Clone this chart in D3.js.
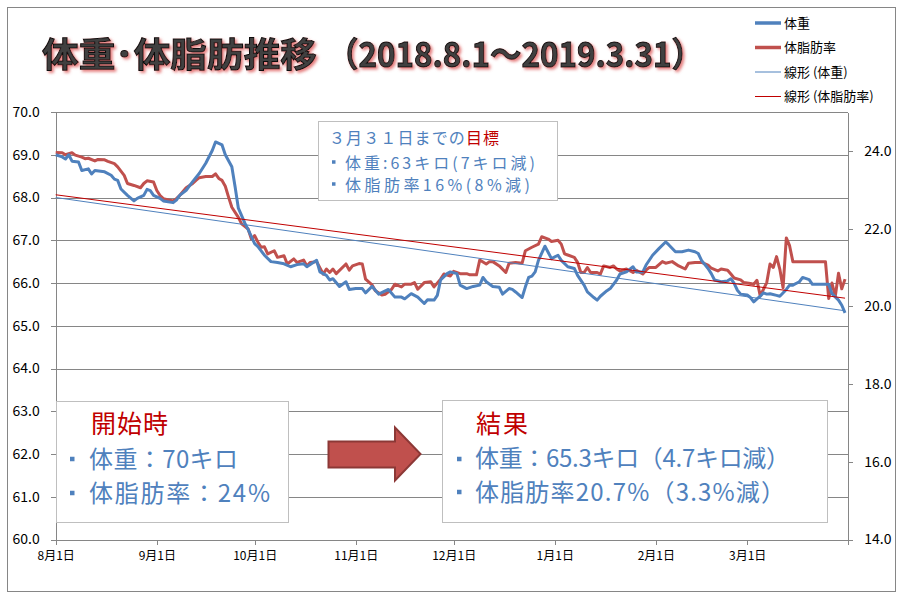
<!DOCTYPE html>
<html>
<head>
<meta charset="utf-8">
<script src="https://cdn.jsdelivr.net/npm/d3@7"></script>
<style>
body { margin: 0; background: #fff; }
svg { display: block; font-family: "Noto Sans CJK JP", "Noto Sans", sans-serif; }
</style>
</head>
<body>
<div class="chart"></div>
<script>
// weight (kg)
var weightSeries = [
    ["2018-08-01",69.0],["2018-08-03",68.95],["2018-08-04",68.9],["2018-08-05",69.0],["2018-08-06",68.85],["2018-08-08",68.83],
    ["2018-08-09",68.63],["2018-08-11",68.67],["2018-08-12",68.55],["2018-08-13",68.63],["2018-08-16",68.6],["2018-08-18",68.52],
    ["2018-08-19",68.43],["2018-08-20",68.4],["2018-08-21",68.2],["2018-08-23",68.05],["2018-08-25",67.92],["2018-08-26",67.98],
    ["2018-08-28",68.05],["2018-08-29",68.19],["2018-08-30",68.16],["2018-08-31",68.05],
    ["2018-09-02",67.98],["2018-09-03",67.92],["2018-09-06",67.88],["2018-09-07",67.94],["2018-09-08",68.05],["2018-09-10",68.17],
    ["2018-09-12",68.37],["2018-09-14",68.56],["2018-09-16",68.8],["2018-09-18",69.1],["2018-09-19",69.3],["2018-09-21",69.23],
    ["2018-09-22",69.0],["2018-09-24",68.72],["2018-09-25",68.25],["2018-09-26",67.75],["2018-09-28",67.4],["2018-09-29",67.25],
    ["2018-10-01",66.92],["2018-10-02",66.85],["2018-10-04",66.65],["2018-10-06",66.5],["2018-10-08",66.48],["2018-10-10",66.45],
    ["2018-10-12",66.38],["2018-10-14",66.43],["2018-10-16",66.45],["2018-10-17",66.38],["2018-10-20",66.53],["2018-10-21",66.26],
    ["2018-10-23",66.18],["2018-10-24",66.07],["2018-10-25",66.1],["2018-10-27",65.92],["2018-10-29",66.03],["2018-10-30",65.85],
    ["2018-11-01",65.87],["2018-11-03",65.87],["2018-11-04",65.77],["2018-11-06",65.92],["2018-11-07",65.83],["2018-11-08",65.74],
    ["2018-11-11",65.85],["2018-11-13",65.67],["2018-11-15",65.67],["2018-11-16",65.63],["2018-11-18",65.75],["2018-11-20",65.67],
    ["2018-11-22",65.52],["2018-11-23",65.61],["2018-11-25",65.6],["2018-11-26",65.71],["2018-11-27",66.07],["2018-11-29",66.22],
    ["2018-11-30",66.26],
    ["2018-12-02",66.22],["2018-12-03",65.95],["2018-12-05",65.87],["2018-12-07",65.92],["2018-12-09",65.95],["2018-12-10",66.13],
    ["2018-12-11",66.03],["2018-12-13",65.92],["2018-12-15",65.9],["2018-12-16",65.74],["2018-12-18",65.87],["2018-12-19",65.85],
    ["2018-12-20",65.79],["2018-12-22",65.66],["2018-12-23",65.91],["2018-12-24",66.13],["2018-12-25",66.16],["2018-12-26",66.26],
    ["2018-12-27",66.53],["2018-12-29",66.86],["2018-12-31",66.57],
    ["2019-01-02",66.65],["2019-01-03",66.53],["2019-01-05",66.38],["2019-01-07",66.34],["2019-01-08",66.18],["2019-01-10",65.95],
    ["2019-01-11",65.79],["2019-01-13",65.66],["2019-01-14",65.6],["2019-01-15",65.69],["2019-01-17",65.82],["2019-01-18",65.87],
    ["2019-01-20",66.07],["2019-01-21",66.21],["2019-01-23",66.26],["2019-01-25",66.38],["2019-01-26",66.26],["2019-01-28",66.26],
    ["2019-01-29",66.42],["2019-01-31",66.65],
    ["2019-02-02",66.81],["2019-02-04",66.96],["2019-02-05",66.89],["2019-02-07",66.73],["2019-02-09",66.73],["2019-02-11",66.77],
    ["2019-02-13",66.73],["2019-02-14",66.69],["2019-02-15",66.53],["2019-02-17",66.34],["2019-02-18",66.22],["2019-02-19",66.07],
    ["2019-02-21",66.03],["2019-02-23",66.05],["2019-02-24",66.1],["2019-02-25",65.99],["2019-02-26",65.83],["2019-02-27",65.74],
    ["2019-03-01",65.72],["2019-03-02",65.66],["2019-03-03",65.56],["2019-03-04",65.63],["2019-03-05",65.69],["2019-03-06",65.77],
    ["2019-03-07",65.74],["2019-03-08",65.75],["2019-03-10",65.71],["2019-03-11",65.69],["2019-03-13",65.85],["2019-03-14",65.95],
    ["2019-03-15",65.95],["2019-03-17",66.03],["2019-03-18",66.13],["2019-03-20",66.08],["2019-03-21",65.97],["2019-03-26",65.97],
    ["2019-03-27",65.75],["2019-03-29",65.6],["2019-03-30",65.48],["2019-03-31",65.3]
];

// body fat (%)
var fatSeries = [
    ["2018-08-01",23.96],["2018-08-03",23.95],["2018-08-04",23.9],["2018-08-06",23.95],["2018-08-07",23.89],["2018-08-09",23.84],
    ["2018-08-10",23.8],["2018-08-11",23.81],["2018-08-13",23.74],["2018-08-14",23.78],["2018-08-16",23.77],["2018-08-17",23.73],
    ["2018-08-19",23.67],["2018-08-20",23.59],["2018-08-22",23.37],["2018-08-23",23.16],["2018-08-25",23.11],["2018-08-27",23.05],
    ["2018-08-28",23.16],["2018-08-29",23.23],["2018-08-31",23.2],
    ["2018-09-01",22.98],["2018-09-02",22.85],["2018-09-03",22.77],["2018-09-06",22.71],["2018-09-07",22.77],["2018-09-08",22.85],
    ["2018-09-10",23.05],["2018-09-12",23.16],["2018-09-13",23.24],["2018-09-14",23.31],["2018-09-16",23.34],["2018-09-18",23.34],
    ["2018-09-19",23.41],["2018-09-20",23.29],["2018-09-21",23.24],["2018-09-22",23.09],["2018-09-23",22.81],["2018-09-24",22.55],
    ["2018-09-26",22.29],["2018-09-27",22.12],["2018-09-29",21.99],["2018-09-30",21.73],
    ["2018-10-01",21.82],["2018-10-02",21.65],["2018-10-03",21.52],["2018-10-04",21.53],["2018-10-05",21.35],["2018-10-07",21.43],
    ["2018-10-08",21.26],["2018-10-10",21.3],["2018-10-11",21.09],["2018-10-13",21.22],["2018-10-14",21.13],["2018-10-16",21.19],
    ["2018-10-17",21.04],["2018-10-18",21.13],["2018-10-20",21.15],["2018-10-22",20.83],["2018-10-23",20.96],["2018-10-24",20.87],
    ["2018-10-25",20.96],["2018-10-26",20.84],["2018-10-29",21.09],["2018-10-30",20.93],["2018-10-31",21.04],
    ["2018-11-02",21.1],["2018-11-03",21.09],["2018-11-04",20.7],["2018-11-06",20.55],["2018-11-07",20.4],["2018-11-09",20.29],
    ["2018-11-10",20.31],["2018-11-12",20.44],["2018-11-13",20.57],["2018-11-15",20.5],["2018-11-16",20.57],["2018-11-18",20.57],
    ["2018-11-19",20.61],["2018-11-20",20.44],["2018-11-22",20.61],["2018-11-24",20.63],["2018-11-25",20.5],["2018-11-27",20.7],
    ["2018-11-28",20.83],["2018-11-30",20.78],
    ["2018-12-01",20.9],["2018-12-03",20.84],["2018-12-05",20.84],["2018-12-06",20.81],["2018-12-08",20.81],["2018-12-09",21.19],
    ["2018-12-11",21.09],["2018-12-12",21.15],["2018-12-13",21.15],["2018-12-15",21.04],["2018-12-17",20.87],["2018-12-18",21.11],
    ["2018-12-20",21.13],["2018-12-22",21.11],["2018-12-23",21.43],["2018-12-25",21.52],["2018-12-27",21.6],["2018-12-28",21.79],
    ["2018-12-30",21.73],["2018-12-31",21.67],
    ["2019-01-02",21.7],["2019-01-03",21.6],["2019-01-04",21.35],["2019-01-05",21.32],["2019-01-07",21.26],["2019-01-08",21.13],
    ["2019-01-09",20.87],["2019-01-10",20.87],["2019-01-11",21.0],["2019-01-12",20.87],["2019-01-14",20.87],["2019-01-15",20.83],
    ["2019-01-16",21.04],["2019-01-18",21.0],["2019-01-19",21.04],["2019-01-20",20.96],["2019-01-21",20.91],["2019-01-23",20.96],
    ["2019-01-25",20.87],["2019-01-26",20.93],["2019-01-28",20.83],["2019-01-29",20.93],["2019-01-30",21.0],
    ["2019-02-01",21.0],["2019-02-03",21.15],["2019-02-04",21.11],["2019-02-06",21.15],["2019-02-08",21.04],["2019-02-10",20.96],
    ["2019-02-11",21.11],["2019-02-13",21.13],["2019-02-15",21.13],["2019-02-17",21.06],["2019-02-18",20.98],["2019-02-20",20.91],
    ["2019-02-21",20.96],["2019-02-23",20.93],["2019-02-24",20.83],["2019-02-25",20.73],["2019-02-27",20.68],["2019-02-28",20.61],
    ["2019-03-02",20.59],["2019-03-03",20.57],["2019-03-04",20.67],["2019-03-05",20.27],["2019-03-07",20.61],["2019-03-08",21.09],
    ["2019-03-09",21.0],["2019-03-10",21.28],["2019-03-11",20.96],["2019-03-12",20.48],["2019-03-13",21.76],["2019-03-14",21.56],
    ["2019-03-15",21.15],["2019-03-25",21.15],["2019-03-26",20.2],["2019-03-27",20.6],["2019-03-28",20.25],["2019-03-29",20.85],
    ["2019-03-30",20.45],["2019-03-31",20.7]
];

// linear trend lines (線形), end points
var trendDates = ["2018-08-01", "2019-03-31"];
var weightTrend = [68.0, 65.35];
var fatTrend = [22.87, 20.21];

// axes
var monthTicks = ["2018-08-01","2018-09-01","2018-10-01","2018-11-01","2018-12-01","2019-01-01","2019-02-01","2019-03-01","2019-04-01"];
var leftTicks = [60, 61, 62, 63, 64, 65, 66, 67, 68, 69, 70];
var rightTicks = [14, 16, 18, 20, 22, 24];

var legendNames = ["体重", "体脂肪率", "線形 (体重)", "線形 (体脂肪率)"];

var width = 903;
var height = 597;
var blue = "#4f81bd";
var red = "#c0504d";
var darkRed = "#c00000";
var gridColor = "#868686";

var parse = d3.timeParse("%Y-%m-%d");

var svg = d3.select(".chart")
    .append("svg")
    .attr("width", width)
    .attr("height", height);

// outer frame
svg.append("rect")
    .attr("x", 7.5).attr("y", 7.5)
    .attr("width", 888).attr("height", 584)
    .attr("fill", "#fff")
    .attr("stroke", gridColor);

//////// scales
var plotLeft = 55.7, plotRight = 848.3, plotTop = 112, plotBottom = 539.5;
var x = d3.scaleTime().domain([parse("2018-08-01"), parse("2019-04-01")]).range([plotLeft, plotRight]);
var yL = d3.scaleLinear().domain([60, 70]).range([plotBottom, plotTop]);
var yR = d3.scaleLinear().domain([14, 25]).range([plotBottom, plotTop]);

// gridlines
svg.append("g")
    .attr("transform", "translate(" + plotLeft + ",0)")
    .call(d3.axisLeft(yL).tickValues(leftTicks).tickSize(-(plotRight - plotLeft)).tickFormat(""))
    .call(function(g) { g.select(".domain").remove(); })
    .selectAll("line")
    .attr("stroke", gridColor)
    .attr("shape-rendering", "crispEdges");

function styleAxis(g, size) {
    g.attr("font-family", null).attr("font-size", size);
    g.select(".domain").attr("stroke", gridColor).attr("shape-rendering", "crispEdges");
    g.selectAll(".tick line").attr("stroke", gridColor).attr("shape-rendering", "crispEdges");
    g.selectAll(".tick text").attr("fill", "#000");
}

svg.append("g")
    .attr("transform", "translate(" + plotLeft + ",0)")
    .call(d3.axisLeft(yL).tickValues(leftTicks).tickFormat(d3.format(".1f")).tickSize(5).tickSizeOuter(0).tickPadding(11))
    .call(styleAxis, 14);

svg.append("g")
    .attr("transform", "translate(" + plotRight + ",0)")
    .call(d3.axisRight(yR).tickValues(rightTicks).tickFormat(d3.format(".1f")).tickSize(5).tickSizeOuter(0).tickPadding(11))
    .call(styleAxis, 14);

var monthFmt = d3.timeFormat("%-m月%-d日");
svg.append("g")
    .attr("transform", "translate(0," + plotBottom + ")")
    .call(d3.axisBottom(x).tickValues(monthTicks.map(parse))
        .tickFormat(function(d) { return d.getMonth() === 3 ? "" : monthFmt(d); })
        .tickSize(5).tickSizeOuter(0).tickPadding(7))
    .call(styleAxis, 12);

//////// lines
var weightLine = d3.line()
    .x(function(d) { return x(parse(d[0])); })
    .y(function(d) { return yL(d[1]); });
var fatLine = d3.line()
    .x(function(d) { return x(parse(d[0])); })
    .y(function(d) { return yR(d[1]); });

svg.append("path")
    .datum(fatSeries)
    .attr("d", fatLine)
    .attr("fill", "none")
    .attr("stroke", red)
    .attr("stroke-width", 3)
    .attr("stroke-linejoin", "round");

svg.append("path")
    .datum(weightSeries)
    .attr("d", weightLine)
    .attr("fill", "none")
    .attr("stroke", blue)
    .attr("stroke-width", 3)
    .attr("stroke-linejoin", "round");

svg.append("path")
    .datum(trendDates.map(function(d, i) { return [d, weightTrend[i]]; }))
    .attr("d", weightLine)
    .attr("fill", "none")
    .attr("stroke", blue)
    .attr("stroke-width", 1);

svg.append("path")
    .datum(trendDates.map(function(d, i) { return [d, fatTrend[i]]; }))
    .attr("d", fatLine)
    .attr("fill", "none")
    .attr("stroke", darkRed)
    .attr("stroke-width", 1);

//////// legend
var legendStyles = [
    { color: blue, w: 3.5 },
    { color: red, w: 3.5 },
    { color: blue, w: 1 },
    { color: darkRed, w: 1 }
];
var legend = svg.selectAll(".legend")
    .data(legendNames)
    .enter().append("g")
    .attr("transform", function(d, i) { return "translate(755," + (23 + i * 24.5) + ")"; });
legend.append("line")
    .attr("x1", 0).attr("x2", 26)
    .attr("stroke", function(d, i) { return legendStyles[i].color; })
    .attr("stroke-width", function(d, i) { return legendStyles[i].w; });
legend.append("text")
    .attr("x", 29).attr("y", 4.5)
    .attr("font-size", 13)
    .attr("fill", "#000")
    .text(function(d) { return d; });

//////// title
var defs = svg.append("defs");
var shadow = defs.append("filter").attr("id", "titleShadow")
    .attr("x", "-5%").attr("y", "-30%").attr("width", "110%").attr("height", "160%");
shadow.append("feDropShadow")
    .attr("dx", 2).attr("dy", 2).attr("stdDeviation", 1.5)
    .attr("flood-color", "#e06666").attr("flood-opacity", 0.85);

var title = svg.append("g").attr("filter", "url(#titleShadow)");
title.append("text")
    .attr("x", 42).attr("y", 67)
    .attr("textLength", 275).attr("lengthAdjust", "spacingAndGlyphs")
    .text("体重･体脂肪推移");
title.append("text")
    .attr("x", 327).attr("y", 67)
    .attr("textLength", 376).attr("lengthAdjust", "spacingAndGlyphs")
    .text("（2018.8.1～2019.3.31）");
title.selectAll("text")
    .attr("font-size", 34)
    .attr("font-weight", "bold")
    .attr("fill", "#404040")
    .attr("stroke", "#111")
    .attr("stroke-width", 1);

//////// text boxes
function box(x0, y0, w, h) {
    svg.append("rect")
        .attr("x", x0).attr("y", y0)
        .attr("width", w).attr("height", h)
        .attr("fill", "#fff")
        .attr("stroke", "#bfbfbf");
}

function label(x0, y0, size, color, str, len) {
    var t = svg.append("text")
        .attr("x", x0).attr("y", y0)
        .attr("font-size", size)
        .attr("fill", color)
        .text(str);
    if (len) t.attr("textLength", len).attr("lengthAdjust", "spacing");
    return t;
}

function bullet(x0, cy, s) {
    svg.append("rect")
        .attr("x", x0).attr("y", cy - s / 2)
        .attr("width", s).attr("height", s)
        .attr("fill", blue);
}

// goal
box(318.5, 121.5, 239, 79);
var goal = label(329, 144, 16, blue, "３月３１日までの", 170);
goal.append("tspan").attr("fill", darkRed).text("目標");
bullet(332, 162, 3.5);
label(345, 169, 16, blue, "体重:63キロ(7キロ減)", 190);
bullet(332, 184, 3.5);
label(345, 191, 16, blue, "体脂肪率16%(8%減)", 185);

// start
box(56.5, 401.5, 232, 121);
label(91, 433, 25, darkRed, "開始時", 77);
bullet(70, 459, 4.5);
label(89, 468, 24, blue, "体重：70キロ", 149);
bullet(70, 493, 4.5);
label(89, 502, 24, blue, "体脂肪率：24%", 181);

// arrow
svg.append("path")
    .attr("d", "M328.5,441.5 H395 V427.5 L420.5,454 L395,480.5 V467.5 H328.5 Z")
    .attr("fill", red)
    .attr("stroke", "#8c3836")
    .attr("stroke-width", 2);

// result
box(442.5, 400.5, 385, 122);
label(476, 433, 25, darkRed, "結果", 52);
bullet(457, 459, 4.5);
label(475, 467, 24, blue, "体重：65.3キロ（4.7キロ減）", 315);
bullet(457, 492, 4.5);
label(475, 501, 24, blue, "体脂肪率20.7%（3.3%減）", 310);
</script>
</body>
</html>
